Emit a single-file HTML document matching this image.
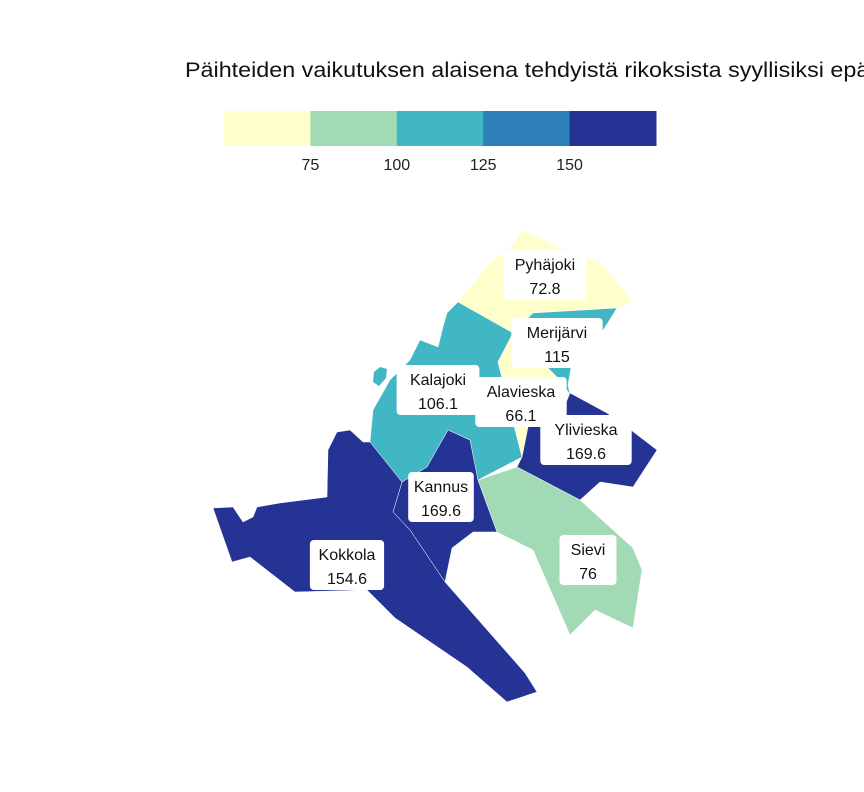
<!DOCTYPE html>
<html><head><meta charset="utf-8"><style>
body{margin:0;background:#fff;}
svg{display:block;font-family:"Liberation Sans",sans-serif;}
</style></head><body>
<svg width="864" height="792" viewBox="0 0 864 792">
<text x="185" y="77" font-size="21.5" textLength="718" lengthAdjust="spacingAndGlyphs" fill="#111">Päihteiden vaikutuksen alaisena tehdyistä rikoksista syyllisiksi epäillyt</text>
<g id="legend"></g>
<g id="map"></g>
<g id="labels"></g>
</svg>
<script>
const regionNames=["Pyhäjoki","Merijärvi","Kalajoki","Alavieska","Ylivieska","Kannus","Kokkola","Sievi"];
const regionValues=[72.8,115,106.1,66.1,169.6,169.6,154.6,76];
const breaks=[75,100,125,150];
const palette=["#ffffcc","#a1dab4","#41b6c4","#2c7fb8","#253494"];
const shapes={
"Pyhäjoki":"522,230 513,245 490,263 458,302 513,333 533,313 617,308 633,302 600,262 567,250",
"Merijärvi":"533,313 617,308 597,340 572,362 568,385 570,395 560,380 540,360 513,333",
"Kalajoki":"458,302 513,333 498,362 522,457 478,480 470,440 448,430 427,467 402,482 370,442 373,410 390,380 410,360 420,340 438,347 443,327 447,313",
"Alavieska":"513,333 540,360 560,380 570,395 563,410 528,427 522,457 498,362",
"Ylivieska":"570,393 607,413 627,427 657,450 633,487 600,482 580,500 517,467 522,457 528,427 563,410",
"Kannus":"448,430 470,440 478,480 497,532 473,532 452,548 445,582 410,530 393,512 402,482 427,467",
"Kokkola":"370,442 402,482 393,512 410,530 445,582 525,673 537,692 507,702 467,667 395,618 367,590 295,592 250,557 232,562 213,508 233,507 243,522 253,517 257,507 280,503 327,497 328,450 337,432 350,430 363,442",
"Sievi":"478,480 517,467 580,500 633,548 642,570 633,628 595,610 570,635 533,550 497,532"
};
const labelPos={"Pyhäjoki":[545,275],"Merijärvi":[557,343],"Kalajoki":[438,390],"Alavieska":[521,402],"Ylivieska":[586,440],"Kannus":[441,497],"Kokkola":[347,565],"Sievi":[588,560]};
const NS="http://www.w3.org/2000/svg";
function colorFor(v){let i=0;while(i<breaks.length&&v>=breaks[i])i++;return palette[i];}
const lg=document.getElementById('legend');
const lx0=224,lw=86.4;
palette.forEach((c,i)=>{const r=document.createElementNS(NS,'rect');
r.setAttribute('x',lx0+i*lw);r.setAttribute('y',111);r.setAttribute('width',lw+0.5);r.setAttribute('height',35);r.setAttribute('fill',c);


lg.appendChild(r);});
breaks.forEach((b,i)=>{const t=document.createElementNS(NS,'text');
t.setAttribute('x',lx0+(i+1)*lw);t.setAttribute('y',170);t.setAttribute('text-anchor','middle');t.setAttribute('font-size','16');t.setAttribute('fill','#222');t.textContent=b;


lg.appendChild(t);});
const mg=document.getElementById('map'),lb=document.getElementById('labels');
regionNames.forEach((n,i)=>{const p=document.createElementNS(NS,'polygon');
p.setAttribute('points',shapes[n]);p.setAttribute('fill',colorFor(regionValues[i]));p.setAttribute('stroke','#fff');p.setAttribute('stroke-width','0.5');


mg.appendChild(p);});
const isl=document.createElementNS(NS,'path');
isl.setAttribute('d','M373,382 L374,372 L380,367 L387,369 L386,378 L379,386 Z');isl.setAttribute('fill',colorFor(regionValues[2]));


mg.appendChild(isl);
regionNames.forEach((n,i)=>{const [cx,cy]=labelPos[n];
const g=document.createElementNS(NS,'g');


const w=Math.max(n.length*8.6+14,50);
const r=document.createElementNS(NS,'rect');
r.setAttribute('x',cx-w/2);r.setAttribute('y',cy-25);r.setAttribute('width',w);r.setAttribute('height',50);r.setAttribute('rx',4);r.setAttribute('fill','#fff');
g.appendChild(r);
[n,String(regionValues[i])].forEach((s,k)=>{const t=document.createElementNS(NS,'text');
t.setAttribute('x',cx);t.setAttribute('y',cy-5+k*24);t.setAttribute('text-anchor','middle');t.setAttribute('font-size','16');t.setAttribute('fill','#111');t.textContent=s;g.appendChild(t);});
lb.appendChild(g);});
</script>
</body></html>
